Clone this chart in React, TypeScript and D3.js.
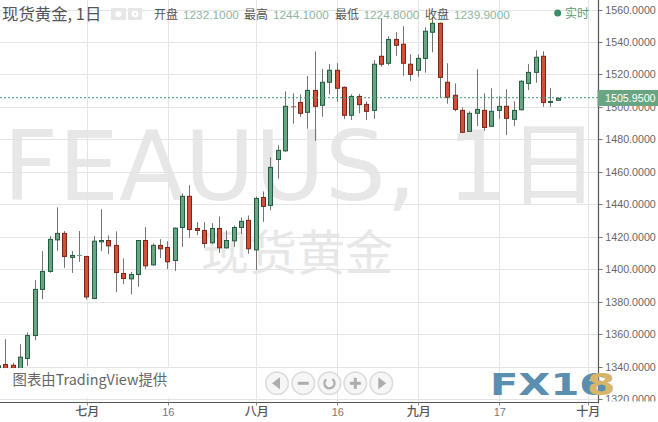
import React from "react";
import * as d3 from "d3";

const WIDTH = 658;
const HEIGHT = 422;

const opens = [1337.5,1341.5,1341.0,1338,1345.2,1359.3,1387.7,1398.8,1418.2,1422.2,1407.4,1408.6,1408,1382.1,1417,1417.8,1414.8,1397.5,1394.2,1396.9,1417.8,1402.8,1414.8,1413.5,1405.5,1425.8,1445,1425.2,1424,1416.4,1425.2,1413.3,1417.6,1425.8,1430.2,1412,1444.3,1439.4,1467.7,1473,1500.1,1502.8,1496.7,1510.2,1501,1515.2,1522.6,1512.1,1494.9,1506.5,1501.6,1497.9,1531.2,1526.9,1541.6,1538.6,1526.3,1522.6,1529.9,1546,1551.5,1515.2,1507.2,1497.9,1485,1496.1,1497.9,1488.1,1497.9,1500.4,1492.4,1498.3,1514.5,1521.3,1531.2,1502.9,1504.1];
const highs = [1342,1357.05,1342.5,1354,1361.2,1393.4,1411.3,1420.5,1438.2,1423.6,1411.3,1423.6,1408.2,1420.5,1437.1,1420.9,1423.4,1406.8,1398.5,1418,1426,1416,1418.6,1417.4,1425.8,1446.8,1451.9,1429.1,1429.1,1428.5,1432.6,1424,1427.1,1432,1433.2,1444.9,1448,1469,1476.5,1509.6,1508.4,1507.8,1519,1534.2,1523.4,1526.4,1527,1512.6,1507.8,1508,1503.5,1528.9,1554.3,1543.5,1546,1549.7,1532.4,1532.4,1549,1555.4,1552,1526.9,1514.5,1499.8,1497.3,1523.2,1508.4,1511.5,1506.5,1510.9,1503.5,1516.6,1526.4,1534.9,1534.3,1511.6,1505.9];
const lows = [1335,1335,1336,1333,1340.6,1356.4,1381.7,1398,1411.4,1401,1397.9,1404.7,1381.5,1381.6,1411.3,1409.4,1386,1390.9,1384.6,1389.3,1400.2,1402.2,1407,1400.2,1399.1,1413.9,1419.4,1421.1,1413.3,1415.6,1410.2,1412.7,1413.9,1421.9,1409.6,1399.7,1429.3,1436.5,1455.8,1472.4,1489.7,1494,1486.6,1479.2,1494,1507.8,1503.2,1492.6,1492,1496.1,1492,1492.7,1524.8,1525.6,1531.5,1519.2,1516.1,1518.6,1521.1,1533.6,1505.9,1502,1497.3,1484,1484.8,1488.3,1485.3,1487.9,1492.7,1482.7,1488.3,1497.9,1510.4,1514.9,1500.1,1500.1,1503.9];
const closes = [1340.7,1338.6,1339.2,1346,1359.3,1387.7,1398.8,1418.5,1422.2,1408,1408.6,1408.6,1383.1,1417.4,1417.8,1414.5,1398.1,1394.4,1396.9,1417.8,1402.2,1414.8,1412.7,1404.7,1425.4,1445,1424.6,1424,1416,1425.2,1413.3,1417.8,1425.8,1429.6,1412.7,1443.7,1438.8,1462.8,1473.3,1500.4,1499.6,1496.1,1510.2,1500.4,1515.2,1522.6,1511.5,1494.9,1506.5,1501.4,1497.3,1526.3,1526.3,1541.6,1538,1526.9,1520.1,1529.9,1546.6,1551.5,1518.2,1505.9,1498.5,1484.4,1496.1,1498.5,1487.4,1497.3,1500.4,1493,1497.9,1515.8,1521.3,1530.6,1502.8,1503.4,1505.3];

const priceTicks = [1320,1340,1360,1380,1400,1420,1440,1460,1480,1500,1520,1540,1560];
const timeTickIndex = [12,23,35,46,57,68,80];
const timeTickLabels = ["七月","16","八月","16","九月","17","十月"];
const lastPrice = 1505.95;
const headerItems = [
  { label: "开盘", value: "1232.1000", lx: 154, vx: 183 },
  { label: "最高", value: "1244.1000", lx: 244, vx: 273 },
  { label: "最低", value: "1224.8000", lx: 335, vx: 363.5 },
  { label: "收盘", value: "1239.9000", lx: 425, vx: 454 },
];

const CJK = "'Noto Sans CJK SC','Noto Sans',sans-serif";
const SANS = "'Liberation Sans',Arial,sans-serif";

const y = d3.scaleLinear().domain([1340, 1560]).range([366.9, 9.5]);
const x = d3.scaleLinear().domain([0, 76]).range([-1.53, 558.2]);
const AXIS_X = 598.5;
const AXIS_Y = 402.5;

const navX = [277, 303.3, 329.5, 355.3, 381.3];
const NAV_Y = 383.3;

export default function App() {
  const candles = d3.range(opens.length).map((i) => ({
    i, o: opens[i], h: highs[i], l: lows[i], c: closes[i],
  }));
  return (
    <svg
      width={WIDTH}
      height={HEIGHT}
      viewBox={`0 0 ${WIDTH} ${HEIGHT}`}
      style={{ position: "absolute", left: 0, top: 0, background: "#fff" }}
    >
      <defs>
        <clipPath id="plot"><rect x={0} y={0} width={AXIS_X} height={AXIS_Y} /></clipPath>
        <clipPath id="axisclip"><rect x={AXIS_X} y={0} width={WIDTH - AXIS_X} height={401.5} /></clipPath>
      </defs>

      {/* watermark */}
      <g fill="#e7e7e7">
        <text x={3} y={200} fontFamily="'DejaVu Sans'" fontSize={96}>FEAUUS, 1</text>
        <text x={508} y={197} fontFamily={CJK} fontSize={91}>日</text>
        <text x={201} y={270} fontFamily={CJK} fontSize={48}>现货黄金</text>
      </g>

      {/* grid */}
      <g stroke="#e4e4e4" strokeWidth={1}>
        {priceTicks.map((t) => (
          <line key={t} x1={0} x2={AXIS_X} y1={Math.round(y(t)) + 0.5} y2={Math.round(y(t)) + 0.5} />
        ))}
        {timeTickIndex.map((t) => (
          <line key={t} y1={0} y2={AXIS_Y} x1={Math.round(x(t)) + 0.5} x2={Math.round(x(t)) + 0.5} />
        ))}
      </g>

      {/* candles */}
      <g clipPath="url(#plot)">
        {candles.map((d) => {
          const cx = Math.floor(x(d.i)) + 0.5;
          const up = d.c >= d.o;
          const top = y(Math.max(d.o, d.c));
          const bot = y(Math.min(d.o, d.c));
          const small = bot - top < 1.2;
          const fill = up ? "#6aa583" : "#d2503a";
          const stroke = up ? "#1f5c40" : "#7e2415";
          const doji = d.i === 40 || d.i === 11;
          return (
            <g key={d.i}>
              <line x1={cx} x2={cx} y1={y(d.h)} y2={y(d.l)} stroke="#737373" strokeWidth={1} />
              {doji ? (
                <line x1={cx - 2.5} x2={cx + 2.5} y1={top} y2={top} stroke={up ? "#6aa583" : "#b5573f"} strokeWidth={1} />
              ) : (
                <rect
                  x={cx - 2}
                  y={top}
                  width={4}
                  height={small ? 1 : bot - top}
                  fill={fill}
                  stroke={stroke}
                  strokeWidth={1}
                />
              )}
            </g>
          );
        })}
      </g>

      {/* last price line */}
      <line x1={0} x2={AXIS_X} y1={y(lastPrice) + 0.4} y2={y(lastPrice) + 0.4} stroke="#3f9a72" strokeWidth={1} strokeDasharray="2 2" />

      {/* attribution box */}
      <rect x={0} y={368} width={173} height={30} fill="#fff" fillOpacity={0.95} />
      <text x={12.5} y={385} fontFamily={CJK} fontSize={14.4} fill="#666">图表由TradingView提供</text>

      {/* navigation buttons */}
      <g>
        {navX.map((cx) => (
          <circle key={cx} cx={cx} cy={NAV_Y} r={11.3} fill="#f6f6f6" stroke="#dcdcdc" strokeWidth={1.5} />
        ))}
        <g fill="#adadad">
          <path d={`M${navX[0] - 5} ${NAV_Y} L${navX[0] + 3} ${NAV_Y - 6} L${navX[0] + 3} ${NAV_Y + 6} Z`} />
          <rect x={navX[1] - 5.5} y={NAV_Y - 1.5} width={11} height={3} />
          <rect x={navX[3] - 5.5} y={NAV_Y - 1.5} width={11} height={3} />
          <rect x={navX[3] - 1.5} y={NAV_Y - 5.5} width={3} height={11} />
          <path d={`M${navX[4] + 5} ${NAV_Y} L${navX[4] - 3} ${NAV_Y - 6} L${navX[4] - 3} ${NAV_Y + 6} Z`} />
        </g>
        <path
          d={d3.arc()({ innerRadius: 4, outerRadius: 6.2, startAngle: 0.6, endAngle: 5.6 }) || ""}
          transform={`translate(${navX[2]},${NAV_Y})`}
          fill="#adadad"
        />
      </g>

      {/* axes */}
      <g stroke="#555">
        <line x1={AXIS_X} x2={AXIS_X} y1={0} y2={AXIS_Y + 1} strokeWidth={1.2} />
        <line x1={0} x2={AXIS_X} y1={AXIS_Y} y2={AXIS_Y} strokeWidth={1.2} />
        {timeTickIndex.map((t) => (
          <line key={t} x1={Math.round(x(t)) + 0.5} x2={Math.round(x(t)) + 0.5} y1={AXIS_Y} y2={AXIS_Y + 3} strokeWidth={1} stroke="#888" />
        ))}
      </g>
      <g clipPath="url(#axisclip)">
        {priceTicks.map((t) => (
          <g key={t}>
            <line x1={AXIS_X} x2={AXIS_X + 4} y1={Math.round(y(t)) + 0.5} y2={Math.round(y(t)) + 0.5} stroke="#777" />
            <text x={605.3} y={y(t) + 4} fontFamily={SANS} fontSize={10.7} fill="#666">{t.toFixed(4)}</text>
          </g>
        ))}
      </g>
      {timeTickIndex.map((t, k) => {
        const isMonth = /月/.test(timeTickLabels[k]);
        return (
          <text
            key={t}
            x={x(t) + 0.5}
            y={416}
            textAnchor="middle"
            fontFamily={isMonth ? CJK : SANS}
            fontSize={isMonth ? 12 : 11}
            fontWeight={isMonth ? 500 : 400}
            fill={isMonth ? "#555" : "#777"}
          >
            {timeTickLabels[k]}
          </text>
        );
      })}

      {/* last price label */}
      <rect x={597.5} y={90} width={WIDTH - 597.5} height={16} fill="#6aa583" />
      <text x={605} y={102} fontFamily={SANS} fontSize={10.7} fill="#fff">{lastPrice.toFixed(4)}</text>

      {/* header */}
      <text x={2} y={19.5} fontFamily={CJK} fontSize={16.4} fill="#555">现货黄金, 1日</text>
      <rect x={111} y={8} width={15} height={12} fill="#e6e6e6" />
      <circle cx={118.5} cy={14} r={3} fill="#fff" />
      <rect x={128} y={8} width={14} height={12} fill="#e6e6e6" />
      <circle cx={135} cy={14} r={3.5} fill="#fff" />
      <circle cx={135} cy={14} r={1.3} fill="#e6e6e6" />
      {headerItems.map((h) => (
        <g key={h.label}>
          <text x={h.lx} y={19} fontFamily={CJK} fontSize={12} fill="#555">{h.label}</text>
          <text x={h.vx} y={19} fontFamily={SANS} fontSize={11.8} fill="#8db5a0">{h.value}</text>
        </g>
      ))}
      <circle cx={557.7} cy={13} r={3.5} fill="#3a8f6a" />
      <text x={565} y={18} fontFamily={CJK} fontSize={12} fill="#5a9a7a">实时</text>

      {/* FX168 logo */}
      <g fontFamily="'DejaVu Sans'" fontWeight={700} fontSize={31}>
        <text transform="translate(490,395) scale(1.34,1)" fill="#5b8fb0">FX16</text>
        <text transform="translate(587,395) scale(1.32,1)" fill="#d9b56a">8</text>
      </g>
    </svg>
  );
}
